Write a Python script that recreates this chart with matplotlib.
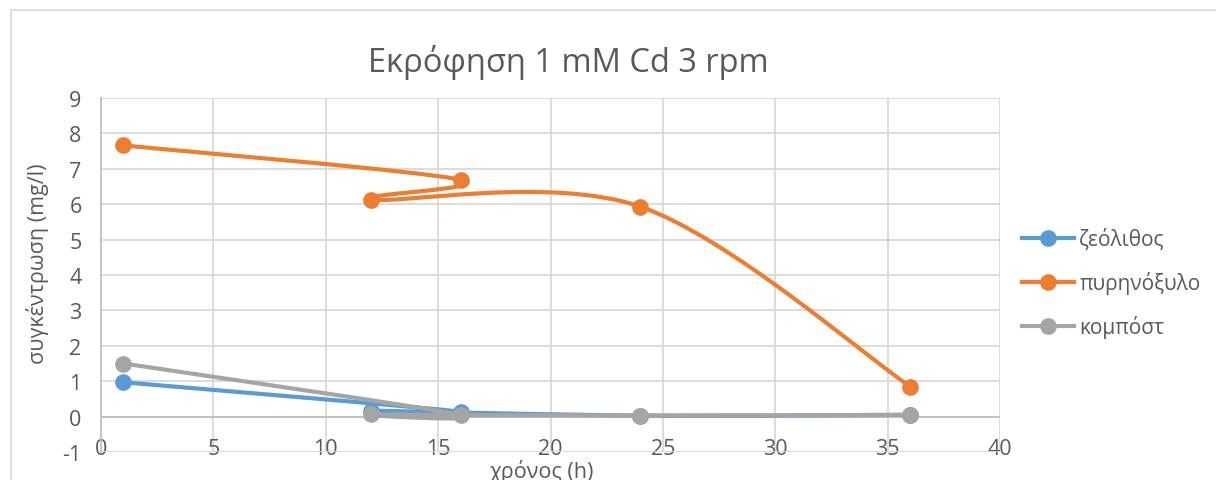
import numpy as np
import matplotlib.pyplot as plt
from matplotlib.path import Path
from matplotlib.patches import PathPatch, Rectangle
from matplotlib.lines import Line2D

plt.rcParams['font.family'] = ['Open Sans', 'DejaVu Sans']
plt.rcParams['axes.unicode_minus'] = False

# Δεδομένα (χρόνος σε h, συγκέντρωση σε mg/l)
x_vals = [1, 16, 12, 24, 36]
zeolithos = [0.97, 0.14, 0.17, 0.03, 0.05]
pyrinoxylo = [7.66, 6.69, 6.13, 5.93, 0.85]
kompost = [1.50, 0.05, 0.06, 0.03, 0.05]

series_names = ['ζεόλιθος', 'πυρηνόξυλο', 'κομπόστ']
colors = ['#5B9BD5', '#ED7D31', '#A5A5A5']

title = 'Εκρόφηση 1 mM Cd 3 rpm'
xlabel = 'χρόνος (h)'
ylabel = 'συγκέντρωση (mg/l)'
xticks = [0, 5, 10, 15, 20, 25, 30, 35, 40]
yticks = [-1, 0, 1, 2, 3, 4, 5, 6, 7, 8, 9]

txt_color = '#595959'
grid_color = '#D9D9D9'


def smooth_path(xs, ys):
    # καμπύλη Bezier τύπου Excel (Catmull-Rom, 1/6)
    p = np.column_stack([xs, ys]).astype(float)
    n = len(p)
    verts = [p[0]]
    codes = [Path.MOVETO]
    for i in range(n - 1):
        p_prev = p[i - 1] if i > 0 else p[i]
        p_next = p[i + 2] if i + 2 < n else p[i + 1]
        c1 = p[i] + (p[i + 1] - p_prev) / 6
        c2 = p[i + 1] - (p_next - p[i]) / 6
        verts += [c1, c2, p[i + 1]]
        codes += [Path.CURVE4] * 3
    return Path(verts, codes)


fig = plt.figure(figsize=(12.16, 4.81), dpi=100)
ax = fig.add_axes([101 / 1216, 1 - 453 / 481, 899 / 1216, 354 / 481])

# πλαίσιο γραφήματος
fig.patches.append(Rectangle((11 / 1216, -0.1), 1.2, 1 - 11 / 481 + 0.1,
                             transform=fig.transFigure, fill=False,
                             edgecolor='#D9D9D9', linewidth=1.2))

ax.set_xlim(0, 40)
ax.set_ylim(-1, 9)
ax.set_xticks(xticks)
ax.set_yticks(yticks)
ax.grid(True, color=grid_color, linewidth=1.3)
ax.set_axisbelow(True)
for s in ['top', 'right', 'bottom']:
    ax.spines[s].set_visible(False)
ax.spines['left'].set_color('#BFBFBF')
ax.spines['left'].set_linewidth(1.3)
ax.axhline(0, color='#BFBFBF', linewidth=1.3, zorder=1)

ax.tick_params(axis='both', length=0, labelsize=15.5, labelcolor=txt_color)
ax.tick_params(axis='x', pad=-10)
ax.tick_params(axis='y', pad=14)

for vals, col, z in zip([zeolithos, pyrinoxylo, kompost], colors, [3, 4, 5]):
    ax.add_patch(PathPatch(smooth_path(x_vals, vals), facecolor='none',
                           edgecolor=col, linewidth=3, capstyle='round',
                           joinstyle='round', zorder=z))
    ax.plot(x_vals, vals, linestyle='none', marker='o', markersize=11,
            color=col, zorder=z, clip_on=False)

fig.text(0.467, 1 - 62 / 481, title, ha='center', va='center',
         fontsize=23.5, color=txt_color)
fig.text(38 / 1216, 1 - 264 / 481, ylabel, rotation=90, ha='center',
         va='center', fontsize=15.5, color=txt_color)
fig.text(541 / 1216, 1 - 472 / 481, xlabel, ha='center', va='center',
         fontsize=15.5, color=txt_color)

handles = [Line2D([], [], color=c, linewidth=3, marker='o', markersize=11)
           for c in colors]
fig.legend(handles, series_names, loc='center left',
           bbox_to_anchor=(1022 / 1216, 1 - 284 / 481), frameon=False,
           borderpad=0, borderaxespad=0, handlelength=2.5,
           handletextpad=0.25, labelspacing=1.0, fontsize=15,
           labelcolor=txt_color)

fig.savefig('out.png', dpi=100)
